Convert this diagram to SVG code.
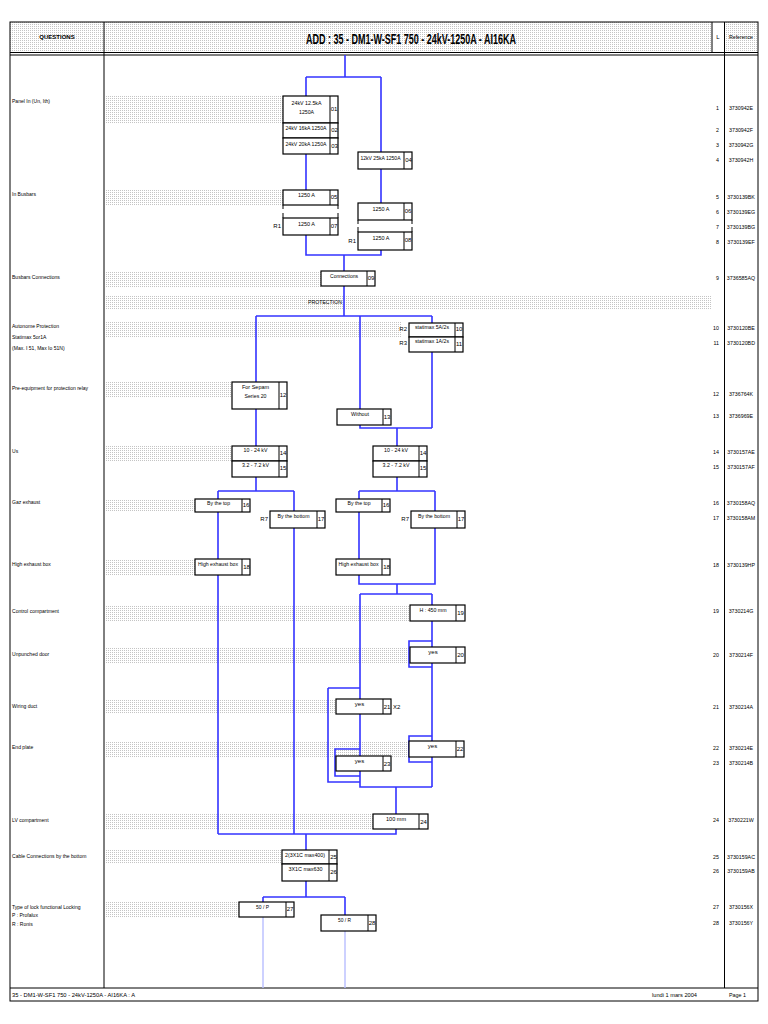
<svg xmlns="http://www.w3.org/2000/svg" width="768" height="1024" viewBox="0 0 768 1024">
<defs>
<pattern id="dots" width="2" height="2" patternUnits="userSpaceOnUse"><rect x="0" y="0" width="1" height="1" fill="#c4c4c4"/></pattern>
</defs>
<style>
text{font-family:"Liberation Sans Narrow","Liberation Sans",Arial,sans-serif;font-size:6px;fill:#000}
.m{text-anchor:middle}
.e{text-anchor:end}
.r{font-size:5.3px}
.s{font-size:5.3px}
.box{fill:#fff;stroke:#000;stroke-width:1.2}
.dv{stroke:#000;stroke-width:1}
.c{fill:none;stroke:#3434ff;stroke-width:1.6}
.cl{fill:none;stroke:#b8beff;stroke-width:1.4}
.fr{fill:none;stroke:#000;stroke-width:1}
.band{fill:url(#dots)}
.title{font-size:15px;font-weight:bold}
</style>
<rect width="768" height="1024" fill="#fff"/>
<g id="bands">
<rect class="band" x="10" y="22" width="94" height="30"/>
<rect class="band" x="104" y="22" width="608" height="30"/>
<rect class="band" x="724" y="22" width="34" height="30"/>
<rect class="band" x="105" y="96" width="178" height="28"/>
<rect class="band" x="105" y="190" width="178" height="16"/>
<rect class="band" x="105" y="271" width="216" height="16"/>
<rect class="band" x="105" y="296" width="607" height="13"/>
<rect class="band" x="105" y="322" width="297" height="15"/>
<rect class="band" x="105" y="382" width="127" height="16"/>
<rect class="band" x="105" y="446" width="127" height="15"/>
<rect class="band" x="105" y="499" width="90" height="13"/>
<rect class="band" x="105" y="559" width="90" height="16"/>
<rect class="band" x="105" y="605" width="305" height="16"/>
<rect class="band" x="105" y="647" width="304" height="16"/>
<rect class="band" x="105" y="699" width="231" height="15"/>
<rect class="band" x="105" y="741" width="304" height="16"/>
<rect class="band" x="105" y="814" width="268" height="15"/>
<rect class="band" x="105" y="850" width="177" height="14"/>
<rect class="band" x="105" y="902" width="134" height="15"/>
</g>
<g id="frame">
<rect class="fr" x="10" y="22" width="748" height="979"/>
<line class="fr" x1="10" y1="52.5" x2="758" y2="52.5" stroke-width="1.5"/>
<line class="fr" x1="10" y1="55" x2="758" y2="55"/>
<line class="fr" x1="104" y1="22" x2="104" y2="988"/>
<line class="fr" x1="712" y1="22" x2="712" y2="52"/>
<line class="fr" x1="724.5" y1="22" x2="724.5" y2="988"/>
<line class="fr" x1="10" y1="988" x2="758" y2="988"/>
<text class="m" x="57" y="39" font-weight="bold" font-size="5.5px">QUESTIONS</text>
<text class="m title" x="411" y="44" textLength="210" lengthAdjust="spacingAndGlyphs">ADD : 35 - DM1-W-SF1 750 - 24kV-1250A - AI16KA</text>
<text class="m" x="718" y="39">L</text>
<text class="m" x="741" y="39" textLength="24" lengthAdjust="spacingAndGlyphs">Reference</text>
<text x="12" y="997" textLength="123" lengthAdjust="spacingAndGlyphs">35 - DM1-W-SF1 750 - 24kV-1250A - AI16KA : A</text>
<text x="652" y="997" textLength="45" lengthAdjust="spacingAndGlyphs">lundi 1 mars 2004</text>
<text x="729" y="997" textLength="17" lengthAdjust="spacingAndGlyphs">Page 1</text>
</g>
<g id="questions" transform="scale(0.84 1)">
<text x="14.3" y="103">Panel In (Un, Ith)</text>
<text x="14.3" y="196">In Busbars</text>
<text x="14.3" y="279">Busbars Connections</text>
<text x="14.3" y="328">Autonome Protection</text>
<text x="14.3" y="339">Statimax 5or1A</text>
<text x="14.3" y="350">(Max. I 51, Max Io 51N)</text>
<text x="14.3" y="390">Pre-equipment for protection relay</text>
<text x="14.3" y="453">Us</text>
<text x="14.3" y="504">Gaz exhaust</text>
<text x="14.3" y="566">High exhaust box</text>
<text x="14.3" y="613">Control compartment</text>
<text x="14.3" y="656">Unpunched door</text>
<text x="14.3" y="708">Wiring duct</text>
<text x="14.3" y="749">End plate</text>
<text x="14.3" y="822">LV compartment</text>
<text x="14.3" y="858">Cable Connections by the bottom</text>
<text x="14.3" y="909">Type of lock functional Locking</text>
<text x="14.3" y="917">P : Profalux</text>
<text x="14.3" y="926">R : Ronis</text>
</g>
<text class="m" x="325" y="304" textLength="34" lengthAdjust="spacingAndGlyphs">PROTECTION</text>
<g id="references">
<text class="e r" x="719" y="110">1</text><text class="m r" x="741" y="110">3730942E</text>
<text class="e r" x="719" y="132">2</text><text class="m r" x="741" y="132">3730942F</text>
<text class="e r" x="719" y="147">3</text><text class="m r" x="741" y="147">3730942G</text>
<text class="e r" x="719" y="162">4</text><text class="m r" x="741" y="162">3730942H</text>
<text class="e r" x="719" y="199">5</text><text class="m r" x="741" y="199">3730139BK</text>
<text class="e r" x="719" y="214">6</text><text class="m r" x="741" y="214">3730139EG</text>
<text class="e r" x="719" y="229">7</text><text class="m r" x="741" y="229">3730139BG</text>
<text class="e r" x="719" y="244">8</text><text class="m r" x="741" y="244">3730139EF</text>
<text class="e r" x="719" y="280">9</text><text class="m r" x="741" y="280">3736585AQ</text>
<text class="e r" x="719" y="330">10</text><text class="m r" x="741" y="330">3730120BE</text>
<text class="e r" x="719" y="345">11</text><text class="m r" x="741" y="345">3730120BD</text>
<text class="e r" x="719" y="396">12</text><text class="m r" x="741" y="396">3736764K</text>
<text class="e r" x="719" y="418">13</text><text class="m r" x="741" y="418">3736969E</text>
<text class="e r" x="719" y="454">14</text><text class="m r" x="741" y="454">3730157AE</text>
<text class="e r" x="719" y="469">15</text><text class="m r" x="741" y="469">3730157AF</text>
<text class="e r" x="719" y="505">16</text><text class="m r" x="741" y="505">3730158AQ</text>
<text class="e r" x="719" y="520">17</text><text class="m r" x="741" y="520">3730158AM</text>
<text class="e r" x="719" y="567">18</text><text class="m r" x="741" y="567">3730139HP</text>
<text class="e r" x="719" y="613">19</text><text class="m r" x="741" y="613">3730214G</text>
<text class="e r" x="719" y="657">20</text><text class="m r" x="741" y="657">3730214F</text>
<text class="e r" x="719" y="709">21</text><text class="m r" x="741" y="709">3730214A</text>
<text class="e r" x="719" y="750">22</text><text class="m r" x="741" y="750">3730214E</text>
<text class="e r" x="719" y="765">23</text><text class="m r" x="741" y="765">3730214B</text>
<text class="e r" x="719" y="822">24</text><text class="m r" x="741" y="822">3730221W</text>
<text class="e r" x="719" y="859">25</text><text class="m r" x="741" y="859">3730159AC</text>
<text class="e r" x="719" y="873">26</text><text class="m r" x="741" y="873">3730159AB</text>
<text class="e r" x="719" y="909">27</text><text class="m r" x="741" y="909">3730156X</text>
<text class="e r" x="719" y="925">28</text><text class="m r" x="741" y="925">3730156Y</text>
</g>
<g id="connectors">
<path class="c" d="M345 55V77M306 77H381M306 77V96M381 77V152"/>
<path class="c" d="M306 154V190M381 169V203"/>
<path class="c" d="M306 235V255H381V250M344 255V271"/>
<path class="c" d="M344 286V316M256 316H432M256 316V382M360 316V428H432M432 316V323M432 352V428"/>
<path class="c" d="M256 409V446M397 428V446"/>
<path class="c" d="M256 477V491M218 491H294M218 491V499M294 491V511"/>
<path class="c" d="M397 477V491M359 491H435M359 491V499M435 491V511"/>
<path class="c" d="M218 512V834M294 528V834"/>
<path class="c" d="M359 512V584H435V528M397 584V594M360 594H432"/>
<path class="c" d="M432 594V787M432 641H409V667H432"/>
<path class="c" d="M432 736H409V762H432"/>
<path class="c" d="M360 594V787H432M328 688H360M328 688V782H360"/>
<path class="c" d="M360 749H335V776H360"/>
<path class="c" d="M396 787V814M396 829V834H218"/>
<path class="c" d="M306 834V850M306 881V897M263 897H345M263 897V902M345 897V915"/>
<path class="cl" d="M263 917V988M345 931V988"/>
</g>
<g id="n01"><rect class="box" x="283" y="96" width="55" height="27"/><line class="dv" x1="330" y1="96" x2="330" y2="123"/><text class="m" x="306.5" y="105" textLength="30" lengthAdjust="spacingAndGlyphs">24kV 12.5kA</text><text class="m" x="306.5" y="114" textLength="15" lengthAdjust="spacingAndGlyphs">1250A</text><text class="m" x="334" y="111">01</text></g>
<g id="n02"><rect class="box" x="283" y="123" width="55" height="15"/><line class="dv" x1="330" y1="123" x2="330" y2="138"/><text class="m s" x="306" y="130" textLength="41" lengthAdjust="spacingAndGlyphs">24kV 16kA 1250A</text><text class="m" x="334.5" y="132">02</text></g>
<g id="n03"><rect class="box" x="283" y="138" width="55" height="16"/><line class="dv" x1="330" y1="138" x2="330" y2="154"/><text class="m s" x="306" y="146" textLength="41" lengthAdjust="spacingAndGlyphs">24kV 20kA 1250A</text><text class="m" x="334.5" y="148">03</text></g>
<g id="n04"><rect class="box" x="358" y="152" width="54" height="17"/><line class="dv" x1="404" y1="152" x2="404" y2="169"/><text class="m s" x="380.5" y="160" textLength="40" lengthAdjust="spacingAndGlyphs">12kV 25kA 1250A</text><text class="m" x="408.5" y="162">04</text></g>
<g id="n05"><rect class="box" x="283" y="190" width="55" height="15"/><line class="dv" x1="330" y1="190" x2="330" y2="205"/><path class="dv" fill="none" d="M283 205V209M338 205V209"/><text class="m" x="306.5" y="197" textLength="17" lengthAdjust="spacingAndGlyphs">1250 A</text><text class="m" x="334" y="199">05</text></g>
<g id="n06"><rect class="box" x="358" y="203" width="54" height="17"/><line class="dv" x1="404" y1="203" x2="404" y2="220"/><path class="dv" fill="none" d="M358 220V224M412 220V224"/><text class="m" x="381" y="211" textLength="17" lengthAdjust="spacingAndGlyphs">1250 A</text><text class="m" x="408" y="213">06</text></g>
<g id="n07"><rect class="box" x="283" y="218" width="55" height="17"/><line class="dv" x1="330" y1="218" x2="330" y2="235"/><path class="dv" fill="none" d="M283 213V218M338 213V218"/><text class="m" x="306.5" y="226" textLength="17" lengthAdjust="spacingAndGlyphs">1250 A</text><text class="m" x="334" y="228">07</text><text class="e" x="281" y="228">R1</text></g>
<g id="n08"><rect class="box" x="358" y="232" width="54" height="18"/><line class="dv" x1="404" y1="232" x2="404" y2="250"/><path class="dv" fill="none" d="M358 227V232M412 227V232"/><text class="m" x="381" y="240" textLength="17" lengthAdjust="spacingAndGlyphs">1250 A</text><text class="m" x="408" y="242">08</text><text class="e" x="356" y="243">R1</text></g>
<g id="n09"><rect class="box" x="321" y="271" width="54" height="15"/><line class="dv" x1="367" y1="271" x2="367" y2="286"/><text class="m" x="344" y="278" textLength="28" lengthAdjust="spacingAndGlyphs">Connections</text><text class="m" x="371" y="280">09</text></g>
<g id="n10"><rect class="box" x="409" y="323" width="54" height="14"/><line class="dv" x1="455" y1="323" x2="455" y2="337"/><text class="m s" x="432" y="329" textLength="34" lengthAdjust="spacingAndGlyphs">statimax 5A/2s</text><text class="m" x="459" y="331">10</text><text class="e" x="407" y="331">R2</text></g>
<g id="n11"><rect class="box" x="409" y="337" width="54" height="15"/><line class="dv" x1="455" y1="337" x2="455" y2="352"/><text class="m s" x="432" y="343" textLength="34" lengthAdjust="spacingAndGlyphs">statimax 1A/2s</text><text class="m" x="459" y="346">11</text><text class="e" x="407" y="345">R3</text></g>
<g id="n12"><rect class="box" x="232" y="382" width="55" height="27"/><line class="dv" x1="279" y1="382" x2="279" y2="409"/><text class="m" x="255.5" y="389" textLength="27" lengthAdjust="spacingAndGlyphs">For Sepam</text><text class="m" x="255.5" y="398" textLength="22" lengthAdjust="spacingAndGlyphs">Series 20</text><text class="m" x="283" y="397">12</text></g>
<g id="n13"><rect class="box" x="337" y="409" width="54" height="16"/><line class="dv" x1="383" y1="409" x2="383" y2="425"/><text class="m" x="360" y="416" textLength="18" lengthAdjust="spacingAndGlyphs">Without</text><text class="m" x="387" y="419">13</text></g>
<g id="n14a"><rect class="box" x="232" y="446" width="55" height="15"/><line class="dv" x1="279" y1="446" x2="279" y2="461"/><text class="m" x="255.5" y="452" textLength="24" lengthAdjust="spacingAndGlyphs">10 - 24 kV</text><text class="m" x="283" y="455">14</text></g>
<g id="n15a"><rect class="box" x="232" y="461" width="55" height="16"/><line class="dv" x1="279" y1="461" x2="279" y2="477"/><text class="m" x="255.5" y="467" textLength="27" lengthAdjust="spacingAndGlyphs">3.2 - 7.2 kV</text><text class="m" x="283" y="470">15</text></g>
<g id="n14b"><rect class="box" x="373" y="446" width="54" height="15"/><line class="dv" x1="419" y1="446" x2="419" y2="461"/><text class="m" x="396" y="452" textLength="24" lengthAdjust="spacingAndGlyphs">10 - 24 kV</text><text class="m" x="423" y="455">14</text></g>
<g id="n15b"><rect class="box" x="373" y="461" width="54" height="16"/><line class="dv" x1="419" y1="461" x2="419" y2="477"/><text class="m" x="396" y="467" textLength="27" lengthAdjust="spacingAndGlyphs">3.2 - 7.2 kV</text><text class="m" x="423" y="470">15</text></g>
<g id="n16a"><rect class="box" x="195" y="499" width="55" height="13"/><line class="dv" x1="242" y1="499" x2="242" y2="512"/><text class="m" x="218.5" y="505" textLength="23" lengthAdjust="spacingAndGlyphs">By the top</text><text class="m" x="246" y="507">16</text></g>
<g id="n17a"><rect class="box" x="270" y="511" width="55" height="17"/><line class="dv" x1="317" y1="511" x2="317" y2="528"/><text class="m" x="293.5" y="518" textLength="32" lengthAdjust="spacingAndGlyphs">By the bottom</text><text class="m" x="321" y="521">17</text><text class="e" x="268" y="521">R7</text></g>
<g id="n16b"><rect class="box" x="336" y="499" width="54" height="13"/><line class="dv" x1="382" y1="499" x2="382" y2="512"/><text class="m" x="359" y="505" textLength="23" lengthAdjust="spacingAndGlyphs">By the top</text><text class="m" x="386" y="507">16</text></g>
<g id="n17b"><rect class="box" x="411" y="511" width="54" height="17"/><line class="dv" x1="457" y1="511" x2="457" y2="528"/><text class="m" x="434" y="518" textLength="32" lengthAdjust="spacingAndGlyphs">By the bottom</text><text class="m" x="461" y="521">17</text><text class="e" x="409" y="521">R7</text></g>
<g id="n18a"><rect class="box" x="195" y="559" width="55" height="16"/><line class="dv" x1="242" y1="559" x2="242" y2="575"/><text class="m s" x="218" y="566" textLength="40" lengthAdjust="spacingAndGlyphs">High exhaust box</text><text class="m" x="246.5" y="569">18</text></g>
<g id="n18b"><rect class="box" x="336" y="559" width="54" height="16"/><line class="dv" x1="382" y1="559" x2="382" y2="575"/><text class="m s" x="358.5" y="566" textLength="40" lengthAdjust="spacingAndGlyphs">High exhaust box</text><text class="m" x="386.5" y="569">18</text></g>
<g id="n19"><rect class="box" x="410" y="605" width="55" height="16"/><line class="dv" x1="456" y1="605" x2="456" y2="621"/><text class="m" x="433" y="612" textLength="27" lengthAdjust="spacingAndGlyphs">H : 450 mm</text><text class="m" x="460.5" y="615">19</text></g>
<g id="n20"><rect class="box" x="410" y="647" width="55" height="16"/><line class="dv" x1="456" y1="647" x2="456" y2="663"/><text class="m" x="433" y="654">yes</text><text class="m" x="460.5" y="657">20</text></g>
<g id="n21"><rect class="box" x="336" y="699" width="55" height="15"/><line class="dv" x1="383" y1="699" x2="383" y2="714"/><text class="m" x="359.5" y="706">yes</text><text class="m" x="387" y="709">21</text><text x="393" y="709">X2</text></g>
<g id="n22"><rect class="box" x="409" y="741" width="55" height="16"/><line class="dv" x1="456" y1="741" x2="456" y2="757"/><text class="m" x="432.5" y="748">yes</text><text class="m" x="460" y="751">22</text></g>
<g id="n23"><rect class="box" x="336" y="756" width="55" height="15"/><line class="dv" x1="383" y1="756" x2="383" y2="771"/><text class="m" x="359.5" y="763">yes</text><text class="m" x="387" y="766">23</text></g>
<g id="n24"><rect class="box" x="373" y="814" width="55" height="15"/><line class="dv" x1="419" y1="814" x2="419" y2="829"/><text class="m" x="396" y="821" textLength="20" lengthAdjust="spacingAndGlyphs">100 mm</text><text class="m" x="423.5" y="824">24</text></g>
<g id="n25"><rect class="box" x="282" y="850" width="55" height="14"/><line class="dv" x1="329" y1="850" x2="329" y2="864"/><text class="m s" x="305" y="857" textLength="40" lengthAdjust="spacingAndGlyphs">2(3X1C max400)</text><text class="m" x="333.5" y="859">25</text></g>
<g id="n26"><rect class="box" x="282" y="864" width="55" height="17"/><line class="dv" x1="329" y1="864" x2="329" y2="881"/><text class="m s" x="305.5" y="871" textLength="34" lengthAdjust="spacingAndGlyphs">3X1C max630</text><text class="m" x="333.5" y="874">26</text></g>
<g id="n27"><rect class="box" x="239" y="902" width="55" height="15"/><line class="dv" x1="286" y1="902" x2="286" y2="917"/><text class="m" x="262.5" y="909" textLength="13" lengthAdjust="spacingAndGlyphs">50 / P</text><text class="m" x="290" y="911">27</text></g>
<g id="n28"><rect class="box" x="321" y="915" width="55" height="16"/><line class="dv" x1="368" y1="915" x2="368" y2="931"/><text class="m" x="344.5" y="922" textLength="13" lengthAdjust="spacingAndGlyphs">50 / R</text><text class="m" x="372" y="925">28</text></g>
</svg>
